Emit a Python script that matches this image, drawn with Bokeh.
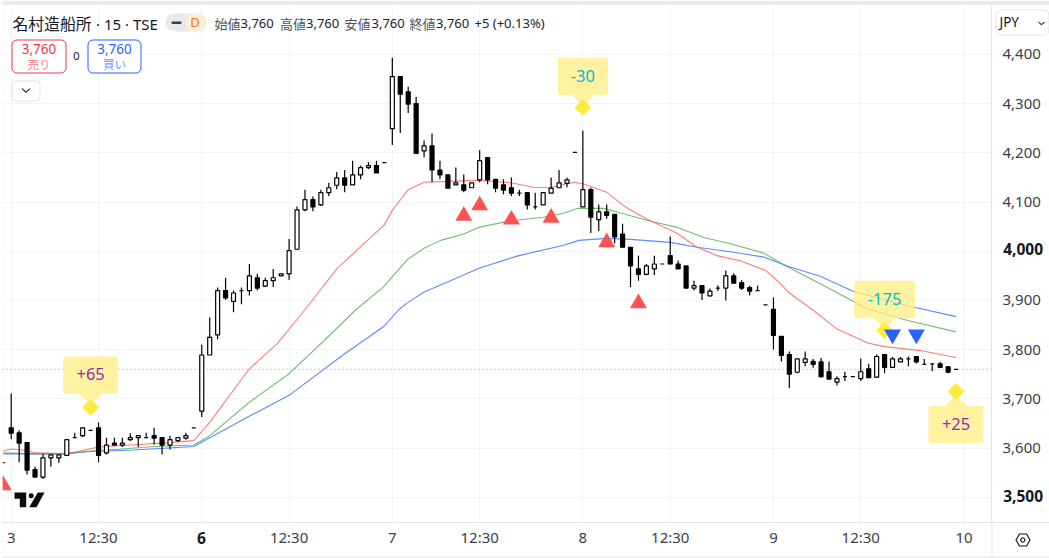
from bokeh.plotting import figure
from bokeh.layouts import column
from bokeh.models import (Range1d, FixedTicker, LinearAxis, NumeralTickFormatter, Label,
                          BoxAnnotation, PolyAnnotation, ColumnDataSource, Grid)
from bokeh.core.properties import value
from bokeh.embed import file_html
from bokeh.resources import INLINE

# ---------- OHLC ----------
bar_index = list(range(-1, 120))
opens = [3570,3641,3631,3611,3556,3541,3580,3580,3585,3621,3625,3636,3641,3590,3610,3606,3617,3621,3621,3625,3621,3606,3615,3620,3641,
3675,3789,3830,3920,3898,3920,3920,3946,3929,3940,3950,3954,4004,4084,4105,4094,4119,4134,4149,4135,4155,4170,4174,4180,
4249,4355,4324,4300,4204,4214,4165,4155,4135,4135,4129,4145,4190,4146,4135,4129,4118,4119,4090,4094,4118,4129,4138,4201,
4090,4125,4064,4080,4075,4035,4008,3964,3953,3964,3974,3991,3974,3970,3925,3930,3909,3925,3925,3950,3936,3926,3920,3891,
3882,3827,3790,3754,3774,3776,3775,3755,3734,3745,3745,3741,3761,3744,3790,3764,3775,3781,3786,3770,3771,3771,3765,3760]
highs = [3570,3711,3636,3612,3562,3588,3586,3586,3617,3631,3641,3636,3652,3621,3621,3621,3630,3625,3631,3641,3621,3625,3621,3631,3641,
3810,3865,3926,3946,3920,3926,3974,3954,3946,3964,3954,4025,4091,4125,4111,4125,4139,4161,4165,4184,4174,4181,4184,4180,
4393,4355,4334,4314,4225,4239,4184,4157,4170,4156,4139,4205,4190,4146,4146,4150,4125,4119,4119,4119,4150,4165,4150,4201,
4245,4129,4095,4095,4075,4056,4008,3991,3974,3991,3974,4030,3981,3970,3940,3930,3924,3931,3961,3955,3941,3930,3930,3891,
3906,3827,3796,3781,3796,3781,3783,3776,3746,3755,3745,3782,3771,3790,3790,3785,3785,3786,3786,3781,3771,3775,3766,3760]
lows = [3570,3618,3571,3546,3541,3537,3562,3570,3585,3621,3622,3636,3571,3587,3606,3602,3614,3602,3621,3607,3587,3597,3612,3617,3641,
3663,3789,3821,3901,3876,3892,3910,3920,3927,3927,3950,3942,4003,4081,4081,4092,4112,4126,4120,4135,4146,4167,4159,4180,
4216,4240,4281,4199,4191,4140,4146,4128,4135,4120,4129,4140,4136,4120,4116,4112,4112,4085,4085,4094,4118,4129,4130,4201,
4090,4037,4041,4066,4016,4008,3927,3940,3951,3951,3974,3973,3964,3925,3920,3901,3908,3919,3900,3935,3921,3910,3920,3891,
3800,3776,3722,3752,3766,3763,3743,3740,3727,3736,3745,3736,3743,3743,3752,3764,3775,3766,3772,3770,3756,3763,3752,3760]
closes = [3570,3630,3610,3555,3541,3580,3586,3586,3617,3621,3641,3636,3585,3606,3606,3610,3621,3625,3621,3620,3606,3617,3621,3625,3641,
3789,3825,3920,3905,3915,3920,3950,3925,3940,3946,3954,4001,4084,4105,4090,4119,4129,4149,4134,4155,4170,4174,4159,4180,
4355,4319,4299,4199,4214,4165,4155,4128,4139,4124,4139,4184,4145,4128,4124,4118,4118,4094,4090,4119,4128,4139,4145,4201,
4125,4069,4080,4073,4029,4008,3970,3953,3970,3974,3974,3974,3964,3925,3930,3915,3919,3925,3950,3935,3925,3919,3920,3891,
3829,3788,3750,3781,3781,3770,3745,3740,3741,3745,3745,3755,3743,3786,3764,3781,3781,3781,3775,3770,3771,3764,3754,3760]

# ---------- moving averages (vertices) ----------
red_x = [-1,0,2,3,7,11,15,19,23,25,30,33.5,37,41,47,48,50,52,55,59,62.9,65.8,67.9,70,71,72,75,77.1,78.8,80.5,83.8,86.4,88.9,91.9,95,96.5,98,101,104,108,110,114.5,119]
red_y = [3594,3598,3595,3590,3588,3602,3606,3610,3615,3652,3761,3812,3881,3964,4054,4083,4125,4140,4142,4144,4139,4130,4129,4137,4140,4137,4120,4093,4076,4062,4037,4008,3991,3980,3961,3940,3915,3880,3842,3813,3806,3798,3784]
green_x = [-1,3,7,10,14,18,23,25,30,35,39.4,43.4,46.85,49.9,52,54.1,57,59,62.9,67,69.6,71.3,74.6,77.1,80.5,83.8,87.2,90.6,94.8,97.7,101.9,107.8,112.9,119]
green_y = [3590,3588,3588,3594,3598,3603,3606,3625,3693,3751,3818,3881,3927,3983,4006,4022,4035,4049,4062,4069,4077,4087,4087,4076,4061,4049,4028,4015,3996,3969,3934,3883,3859,3836]
blue_x = [-1,3,7,10,15.5,23,29.8,35,41.7,47,48.8,49.9,52,56.2,59,63.7,69.6,71.5,75,78,83,86.4,90.6,94.8,97.7,101.9,106.1,112.9,119]
blue_y = [3588,3588,3589,3593,3596,3603,3663,3707,3788,3848,3881,3895,3917,3946,3966,3990,4012,4022,4026,4024,4018,4008,3999,3988,3970,3949,3918,3889,3867]

# ---------- signals ----------
buy_x = [-1,57,59,63,68,75,79]
buy_y = [3524,4072,4093,4064,4068,4018,3894]
sell_x = [111,114]
sell_y = [3831,3831]
pin_x = [10,72,110,119]
pin_y = [3683,4292,3839,3715]
pin_text = ["+65","-30","-175","+25"]
pin_box_y = [3748,4355,3902,3648]
pin_box_w = [55,50,61,55]
pin_tail = [-1,-1,-1,1]
pin_color = ["#9c27b0","#00bcd4","#00bcd4","#9c27b0"]

# ---------- ticks ----------
y_ticks = [3500,3600,3700,3800,3900,4000,4100,4200,4300,4400]
x_ticks = [0,11,24,35,48,59,72,83,96,107,120]
x_labels = ["3","12:30","6","12:30","7","12:30","8","12:30","9","12:30","10"]

W, H = 1049, 558
L_, R_, T_, B_ = 2, 991, 5, 522
P_PER_BAR, X0 = 7.94, 10.7
P_PER_YEN, Y4000 = 0.492, 250.7
xr = Range1d((L_-X0)/P_PER_BAR, (R_-X0)/P_PER_BAR)
yr = Range1d(4000+(Y4000-B_)/P_PER_YEN, 4000+(Y4000-T_)/P_PER_YEN)

GRID = "#f1f3f7"
LINE = "#e0e3eb"
FONT = "Noto Sans"
CJK = "Noto Sans CJK JP"
INK = "#131722"

p = figure(width=W, height=H, x_range=xr, y_range=yr, output_backend="svg", toolbar_location=None,
           x_axis_location=None, y_axis_location=None,
           frame_width=R_-L_, frame_height=B_-T_,
           min_border_left=L_, min_border_right=W-R_, min_border_top=T_, min_border_bottom=H-B_,
           background_fill_color="white", border_fill_color="white", outline_line_color=None)
p.grid.visible = False

yaxis = LinearAxis(ticker=FixedTicker(ticks=y_ticks), formatter=NumeralTickFormatter(format="0,0"))
yaxis.major_tick_line_color = None
yaxis.minor_tick_line_color = None
yaxis.major_tick_out = 0
yaxis.axis_line_color = LINE
yaxis.major_label_text_font = FONT
yaxis.major_label_text_font_size = "15px"
yaxis.major_label_text_color = "#3c404a"
yaxis.major_label_standoff = 11
yaxis.major_label_overrides = {4000:"", 3500:""}
p.add_layout(yaxis, "right")

xaxis = LinearAxis(ticker=FixedTicker(ticks=x_ticks))
xaxis.major_tick_line_color = None
xaxis.minor_tick_line_color = None
xaxis.major_tick_out = 0
xaxis.axis_line_color = LINE
xaxis.major_label_text_font = FONT
xaxis.major_label_text_font_size = "15px"
xaxis.major_label_text_color = "#3c404a"
xaxis.major_label_standoff = 4
xaxis.major_label_overrides = {t:("" if s=="6" else s) for t,s in zip(x_ticks,x_labels)}
p.add_layout(xaxis, "below")

p.add_layout(Grid(dimension=0, ticker=FixedTicker(ticks=x_ticks), grid_line_color=GRID, grid_line_width=1))
p.add_layout(Grid(dimension=1, ticker=FixedTicker(ticks=y_ticks), grid_line_color=GRID, grid_line_width=1))

# last price line
p.line([xr.start, xr.end], [3760,3760], line_color="#9598a1", line_width=1, line_dash="1 3")

# moving averages
p.line(blue_x, blue_y, line_color="#2962ff", line_width=1.1, line_alpha=0.75, line_join="round")
p.line(green_x, green_y, line_color="#4caf50", line_width=1.1, line_alpha=0.8, line_join="round")
p.line(red_x, red_y, line_color="#ff5252", line_width=1.1, line_alpha=0.75, line_join="round")

# candles
src = ColumnDataSource(dict(x=bar_index, o=opens, h=highs, l=lows, c=closes,
                            top=[max(a,b) for a,b in zip(opens,closes)],
                            bot=[min(a,b) for a,b in zip(opens,closes)],
                            fill=["white" if b>a else "black" for a,b in zip(opens,closes)]))
p.segment("x","h","x","l",source=src,line_color="black",line_width=1.2)
p.vbar(x="x",top="top",bottom="bot",width=4/P_PER_BAR,source=src,fill_color="fill",line_color="black",line_width=1.2)

# pin callouts
BOX_H = 37.5
half = BOX_H/2/P_PER_YEN
TAIL_W = 11/P_PER_BAR
TAIL_H = 11/P_PER_YEN
tail_xs = [[x-TAIL_W,x+TAIL_W,x] for x in pin_x]
tail_ys = [[by+d*half,by+d*half,by+d*(half+TAIL_H)] for by,d in zip(pin_box_y,pin_tail)]
p.rect(pin_x,pin_box_y,width=pin_box_w,height=BOX_H,width_units="screen",height_units="screen",
       fill_color="#ffee80",fill_alpha=0.75,line_color=None,border_radius=3)
p.patches(tail_xs,tail_ys,fill_color="#ffee80",fill_alpha=0.75,line_color=None)
p.scatter(pin_x,pin_y,marker="square",size=12,angle=0.7854,fill_color="#ffeb3b",line_color=None)
p.text(pin_x,[y+1.5 for y in pin_box_y],text=pin_text,text_color=pin_color,text_font=value(FONT),text_font_size="16.5px",
       text_align="center",text_baseline="middle")

# entries
p.scatter(buy_x,buy_y,marker="triangle",size=17,fill_color="#ff5252",line_color=None)
p.scatter(sell_x,sell_y,marker="inverted_triangle",size=17,fill_color="#2962ff",line_color=None)

# logo
def px(v): return (v-X0)/P_PER_BAR
def py(v): return 4000+(Y4000-v)/P_PER_YEN
logo_x = [[px(a) for a in s] for s in ([14,26,25.7,25.7,19.3,19.3,14],[37.3,44,36,28.7])]
logo_y = [[py(a) for a in s] for s in ([492,492,492,506.7,506.7,498.3,498.3],[492,492,506.7,506.7])]
p.patches(logo_x,logo_y,fill_color="#0b0b0b",line_color=None)
p.scatter([px(30.7)],[py(495.3)],marker="circle",size=5,fill_color="#0b0b0b",line_color=None)

# overlay figure for page furniture (its frame spans the whole canvas)
q = figure(width=W, height=H, x_range=(0,W), y_range=(H,0), output_backend="svg", toolbar_location=None,
           x_axis_location=None, y_axis_location=None, margin=(-H,0,0,0),
           frame_width=W, frame_height=H, min_border=0,
           background_fill_alpha=0, border_fill_alpha=0, outline_line_color=None)
q.grid.visible = False

def box(l,t,r,b,fill,line=None,radius=0,lw=1):
    q.add_layout(BoxAnnotation(left=l,right=r,top=t,bottom=b,left_units="canvas",right_units="canvas",
                               top_units="canvas",bottom_units="canvas",fill_color=fill,fill_alpha=1,
                               line_color=line,line_width=lw,line_alpha=1,border_radius=radius))
def label(x,y,text,size,color=INK,font=FONT,style="normal",align="left"):
    q.add_layout(Label(x=x,y=y,x_units="canvas",y_units="canvas",text=text,text_font=font,
                       text_font_size=f"{size}px",text_color=color,text_font_style=style,
                       text_align=align,text_baseline="middle"))
def poly(xs,ys,fill=None,line=INK):
    q.add_layout(PolyAnnotation(xs=xs,ys=ys,xs_units="canvas",ys_units="canvas",fill_color=fill,
                                fill_alpha=1 if fill else 0,line_color=line,line_width=1.2,line_alpha=1))

box(0,0,W,4.5,"#ebebeb")
box(0,0,2,H,"#ebebeb")
box(0,556,W,H,"#ebebeb")
box(991,522,992,556,LINE)
box(991,521.5,W,522.5,LINE)

label(12,23,"名村造船所",15.8,INK,CJK)
label(95.5,23,"· 15 · TSE",15,INK)
box(165,13,206,31,"#e9e9ea",radius=9)
box(185,13,206,31,"#ffeedb",radius=9)
box(171,21,181,23.6,"#3e3e42",radius=1)
label(194.5,21.5,"D",13,"#f57c00",FONT,"normal","center")
for x,name,vx,val in [(214,"始値",240,"3,760"),(279.5,"高値",305.5,"3,760"),(344,"安値",371,"3,760"),(409,"終値",435.5,"3,760")]:
    label(x,23,name,13,"#50535c",CJK)
    label(vx,22.5,val,13,"#1f222b")
label(474,22.5,"+5 (+0.13%)",13,"#1f222b")

box(11.5,39.5,65.5,72.5,"white","#f23645",5)
label(38.5,48.5,"3,760",13.5,"#f23645",FONT,"normal","center")
label(38.5,63,"売り",11.5,"#f7818c",CJK,"normal","center")
label(76,55,"0",11,INK,FONT,"normal","center")
box(87.5,39.5,140.5,72.5,"white","#2962ff",5)
label(114,48.5,"3,760",13.5,"#2962ff",FONT,"normal","center")
label(114,63,"買い",11.5,"#6f93ff",CJK,"normal","center")
box(11.5,80.5,39.5,100.5,"white",LINE,3)
poly([21.5,25.5,29.5,29.5,25.5,21.5],[87.5,91,87.5,88.8,92.5,88.8],fill=INK,line=None)

box(995.5,9.5,1048.5,34.5,"white",LINE,5)
label(999,21.5,"JPY",13.5,INK)
poly([1038,1041,1044,1044,1041,1038],[21,23.5,21,22.2,24.8,22.2],fill=INK,line=None)

label(1002.7,248.5,"4,000",15.5,INK,FONT,"bold")
label(1002.7,495,"3,500",15.5,INK,FONT,"bold")
label(201,537.5,"6",15.5,INK,FONT,"bold","center")

poly([1015.5,1019,1026,1029.5,1026,1019],[539.5,533.5,533.5,539.5,545.5,545.5])
poly([1020,1021.3,1023.3,1024.6,1023.3,1021.3],[539.5,537.5,537.5,539.5,541.5,541.5])

open("out.html","w").write(file_html(column(p,q,spacing=0),INLINE))
